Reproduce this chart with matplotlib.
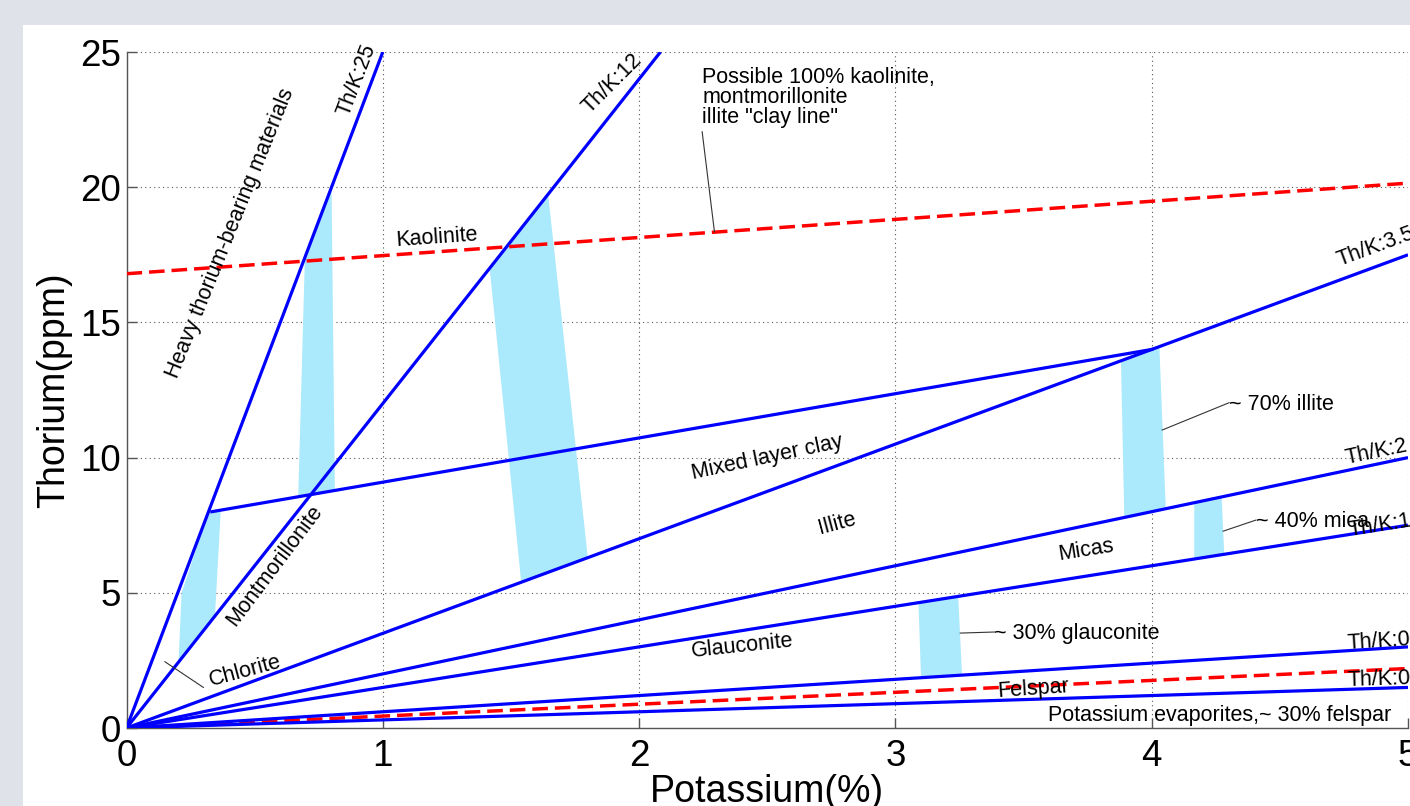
import numpy as np
import matplotlib
matplotlib.use("Agg")
import matplotlib.pyplot as plt
from matplotlib.patches import Polygon, Rectangle

plt.rcParams['font.family'] = ['Liberation Sans', 'DejaVu Sans']

# Th/K ratio lines through the origin
ratios = [25, 12, 3.5, 2, 1.5, 0.6, 0.3]
ratio_labels = ["Th/K:25", "Th/K:12", "Th/K:3.5", "Th/K:2", "Th/K:1.5", "Th/K:0.6", "Th/K:0.3"]
felspar_ratio = 0.44

# "clay line" (red dashed)
clay_k = [0.0, 5.0]
clay_th = [16.8, 20.15]

# mixed layer clay line
mixed_k = [0.333, 4.0]
mixed_th = [8.0, 14.0]

# shaded zones, (K, Th) vertices
bands = [
    [(0.203, 2.44), (0.215, 5.0), (0.32, 8.0), (0.368, 8.07), (0.345, 4.14)],
    [(0.67, 8.55), (0.696, 17.4), (0.80, 20.0), (0.813, 8.79)],
    [(1.417, 17.0), (1.645, 19.74), (1.80, 6.3), (1.54, 5.39)],
    [(3.88, 13.6), (4.03, 14.1), (4.055, 8.11), (3.893, 7.79)],
    [(4.166, 8.33), (4.273, 8.55), (4.283, 6.42), (4.166, 6.25)],
    [(3.09, 4.63), (3.245, 4.87), (3.26, 1.96), (3.10, 1.86)],
]

xticks = [0, 1, 2, 3, 4, 5]
yticks = [0, 5, 10, 15, 20, 25]

BLUE = "#0000ff"
RED = "#ff0000"
BAND = "#abe9fc"
FS = 15.5

fig = plt.figure(figsize=(14.1, 8.06), dpi=100, facecolor="#dfe3e9")
fig.patches.append(Rectangle((23 / 1410, 0), 1, 1 - 25 / 806, transform=fig.transFigure,
                             facecolor="white", edgecolor="none", zorder=-10))
ax = fig.add_axes([126.5 / 1410, 78 / 806, 1281.5 / 1410, 676 / 806])
ax.set_zorder(5)
ax.set_xlim(0, 5)
ax.set_ylim(0, 25)

for b in bands:
    ax.add_patch(Polygon(b, closed=True, facecolor=BAND, edgecolor="none", zorder=1))

for r in ratios:
    xe = min(5.0, 25.0 / r)
    ax.plot([0, xe], [0, r * xe], color=BLUE, lw=2.3, zorder=3, solid_capstyle="butt")

ax.plot(mixed_k, mixed_th, color=BLUE, lw=2.3, zorder=3)
ax.plot(clay_k, clay_th, color=RED, lw=2.5, ls=(0, (4.5, 2)), zorder=4)
ax.plot([0, 5], [0, 5 * felspar_ratio], color=RED, lw=2.5, ls=(0, (4.5, 2)), zorder=2)

ax.set_xticks(xticks)
ax.set_yticks(yticks)
ax.grid(True, color="#555555", linestyle=(0, (1, 3)), linewidth=0.8, zorder=0)
ax.set_axisbelow(True)
for s in ["top", "right"]:
    ax.spines[s].set_visible(False)
for s in ["left", "bottom"]:
    ax.spines[s].set_color("#555555")
    ax.spines[s].set_linewidth(1.0)
ax.tick_params(direction="in", length=7, width=1, color="#555555", labelsize=26.5)
ax.tick_params(axis="x", pad=8)
ax.tick_params(axis="y", pad=4)
ax.set_xlabel("Potassium(%)", fontsize=27, labelpad=0)
ax.set_ylabel("Thorium(ppm)", fontsize=27, labelpad=6)


def label(x, y, s, rot=0, ha="center", va="center", fs=FS):
    ax.text(x, y, s, rotation=rot, ha=ha, va=va, rotation_mode="anchor",
            fontsize=fs, zorder=5, clip_on=False)


def leader(x0, y0, x1, y1):
    ax.plot([x0, x1], [y0, y1], color="#333333", lw=0.8, zorder=5)


# zone names
label(0.404, 18.3, "Heavy thorium-bearing materials", 68)
label(0.899, 23.96, ratio_labels[0], 69)
label(1.895, 23.85, ratio_labels[1], 45)
label(1.21, 18.12, "Kaolinite", 4)
label(2.50, 9.98, "Mixed layer clay", 12)
label(2.774, 7.54, "Illite", 15)
label(3.745, 6.58, "Micas", 9)
label(2.404, 3.03, "Glauconite", 6)
label(0.579, 6.0, "Montmorillonite", 53)
label(0.462, 2.1, "Chlorite", 15)
label(3.538, 1.45, "Felspar", 4)
label(3.597, 0.48, "Potassium evaporites,~ 30% felspar", 0, ha="left")

# ratio labels at right edge
label(4.74, 16.9, ratio_labels[2], 20.3, ha="left", va="bottom")
label(4.765, 9.6, ratio_labels[3], 11.9, ha="left", va="bottom")
label(4.775, 6.9, ratio_labels[4], 9, ha="left", va="bottom")
label(4.765, 2.72, ratio_labels[5], 3.6, ha="left", va="bottom")
label(4.765, 1.35, ratio_labels[6], 1.8, ha="left", va="bottom")

# annotations with leader lines
ax.text(2.247, 24.45, "Possible 100% kaolinite,\nmontmorillonite\nillite \"clay line\"",
        ha="left", va="top", fontsize=FS, linespacing=0.95, zorder=5)
leader(2.246, 22.05, 2.294, 18.35)
label(4.302, 11.98, "~ 70% illite", 0, ha="left")
leader(4.041, 11.02, 4.302, 12.03)
label(4.407, 7.62, "~ 40% mica", 0, ha="left")
leader(4.279, 7.28, 4.407, 7.69)
label(3.386, 3.51, "~ 30% glauconite", 0, ha="left")
leader(3.253, 3.51, 3.386, 3.55)
leader(0.15, 2.45, 0.30, 1.5)

fig.savefig("out.png", dpi=100, facecolor=fig.get_facecolor())
